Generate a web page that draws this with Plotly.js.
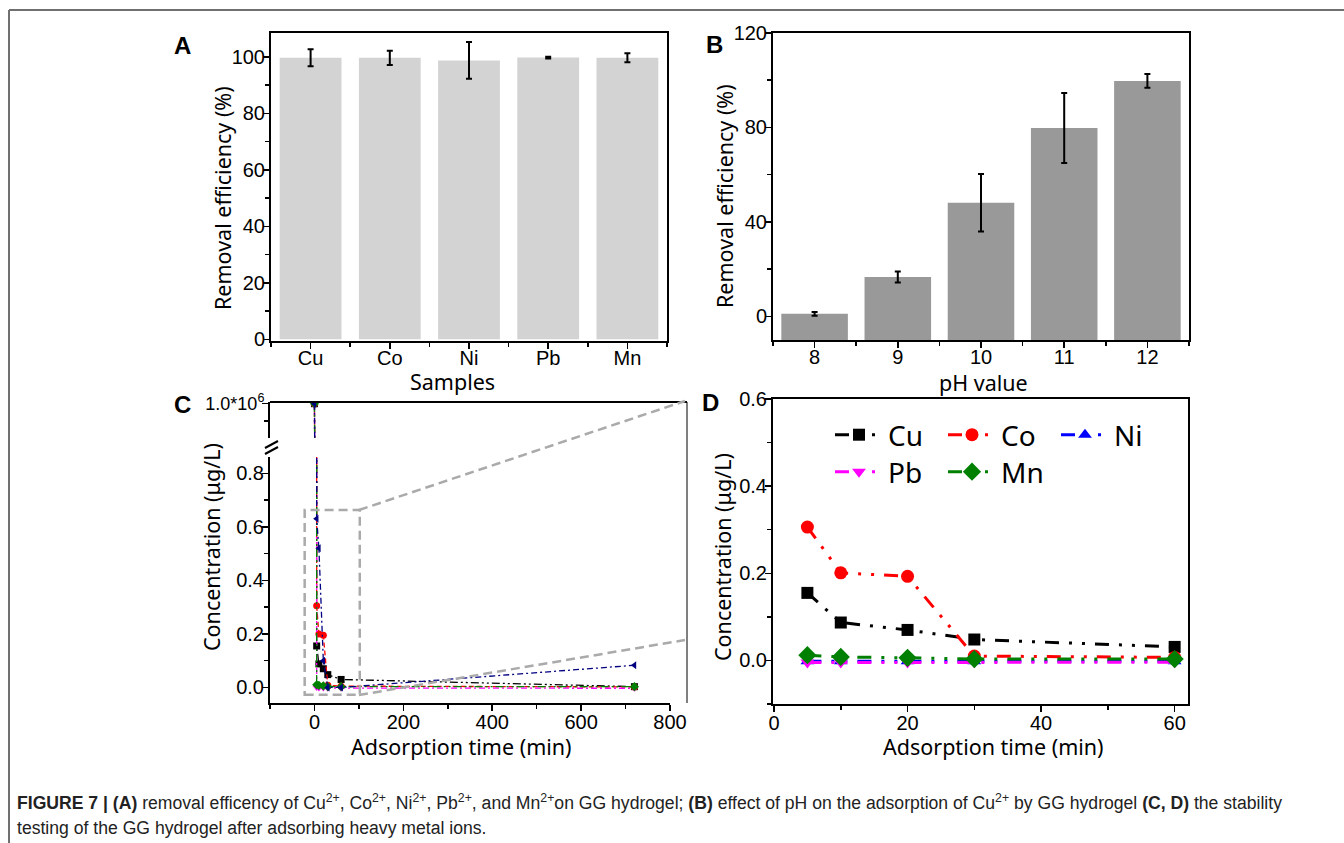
<!DOCTYPE html>
<html><head><meta charset="utf-8">
<script src="https://cdn.plot.ly/plotly-3.0.1.min.js"></script>
<style>html,body{margin:0;padding:0;background:#fff}#chart{width:1344px;height:843px}</style>
</head><body><div id="chart"></div>
<script>
// ---------- data ----------
const samples = ['Cu', 'Co', 'Ni', 'Pb', 'Mn'];
const effA = [99.7, 99.7, 98.8, 99.8, 99.7];
const errA = [3.0, 2.5, 6.5, 0.3, 1.6];

const phValues = [8, 9, 10, 11, 12];
const effB = [1.1, 16.7, 48.1, 79.8, 99.7];
const errB = [0.8, 2.3, 12.2, 14.8, 2.9];

const timeC = [0, 5, 10, 20, 30, 60, 720];
const cuC = [1e6, 0.155, 0.088, 0.070, 0.048, 0.030, 0.003];
const coC = [1e6, 0.305, 0.200, 0.195, 0.008, 0.005, 0.002];
const niC = [1e6, 0.630, 0.520, 0.100, 0.000, 0.000, 0.083];
const pbC = [1e6, 0.000, -0.002, -0.002, -0.003, -0.003, -0.003];
const mnC = [1e6, 0.010, 0.008, 0.006, 0.003, 0.003, 0.003];

const timeD = [5, 10, 20, 30, 60];
const cuD = [0.155, 0.087, 0.070, 0.048, 0.031];
const coD = [0.306, 0.201, 0.193, 0.010, 0.007];
const niD = [-0.002, -0.002, -0.002, -0.002, -0.002];
const pbD = [-0.005, -0.005, -0.005, -0.004, -0.004];
const mnD = [0.012, 0.008, 0.006, 0.003, 0.003];

const yTicksC = [0, 0.2, 0.4, 0.6, 0.8];
const upperTickC = [1e6];
const upperTickTextC = ['1.0*10<sup>6</sup>'];

// ---------- helpers ----------
const W = 1344, H = 843;
const px = v => v / W;
const py = v => 1 - v / H;
const TICKF = {family: 'Liberation Sans, Arial, sans-serif', size: 20, color: '#000'};
const TITLEF = {family: 'Noto Sans, Open Sans, sans-serif', size: 21.5, color: '#000'};
const B_BASE = -10; // bars in panel B rise from the bottom of the axis

function minorT(extra) {
  return Object.assign({ticks: 'outside', ticklen: 4, tickwidth: 1.5, tickcolor: '#000', showgrid: false}, extra);
}
function axisBase(extra) {
  return Object.assign({
    showline: true, linecolor: '#000', linewidth: 2, mirror: true,
    ticks: 'outside', ticklen: 6, tickwidth: 1.5, tickcolor: '#000',
    showgrid: false, zeroline: false, tickfont: TICKF, ticklabelstandoff: -6
  }, extra);
}

const sC = {
  Cu: {color: '#000000', symbol: 'square', dash: '8px,3px,2px,3px,2px,3px'},
  Co: {color: '#ff0000', symbol: 'circle', dash: '5px,3px'},
  Ni: {color: '#000080', symbol: 'triangle-left', dash: '6px,3px,2px,3px'},
  Pb: {color: '#ff00ff', symbol: 'triangle-down', dash: '6px,3px,2px,3px'},
  Mn: {color: '#008000', symbol: 'diamond', dash: '8px,3px,2px,3px,2px,3px'}
};
const dataC = {Cu: cuC, Co: coC, Ni: niC, Pb: pbC, Mn: mnC};

const traces = [];
// Panel A
traces.push({
  type: 'bar', x: samples.map((s, i) => i), y: effA, width: 0.78,
  marker: {color: '#d3d3d3', line: {width: 0}},
  error_y: {type: 'data', array: errA, visible: true, color: '#000', thickness: 2, width: 3},
  xaxis: 'x', yaxis: 'y', showlegend: false
});
// Panel B
traces.push({
  type: 'bar', x: phValues, y: effB.map(v => v - B_BASE), base: B_BASE, width: 0.8,
  marker: {color: '#999999', line: {width: 0}},
  error_y: {type: 'data', array: errB, visible: true, color: '#000', thickness: 2, width: 3},
  xaxis: 'x2', yaxis: 'y2', showlegend: false
});
// Panel C (broken axis: lower y3, upper y5)
['y3', 'y5'].forEach(ya => {
  ['Cu', 'Co', 'Pb', 'Mn', 'Ni'].forEach(name => {
    const st = sC[name];
    traces.push({
      type: 'scatter', mode: 'lines+markers', name: name,
      x: timeC, y: dataC[name], xaxis: 'x3', yaxis: ya, showlegend: false,
      line: {color: st.color, width: 1.3, dash: st.dash},
      marker: {color: st.color, symbol: st.symbol, size: 7}
    });
  });
});
// Panel D
const sD = {
  Cu: {color: '#000000', symbol: 'square', size: 12, data: cuD, legend: 'legend', rank: 1},
  Co: {color: '#ff0000', symbol: 'circle', size: 13, data: coD, legend: 'legend', rank: 2},
  Ni: {color: '#0000ff', symbol: 'triangle-up', size: 12, data: niD, legend: 'legend', rank: 3},
  Pb: {color: '#ff00ff', symbol: 'triangle-down', size: 12, data: pbD, legend: 'legend2', rank: 4},
  Mn: {color: '#008000', symbol: 'diamond', size: 14, data: mnD, legend: 'legend2', rank: 5}
};
['Ni', 'Pb', 'Cu', 'Co', 'Mn'].forEach(name => {
  const st = sD[name];
  traces.push({
    type: 'scatter', mode: 'lines+markers', name: name, legendrank: st.rank,
    x: timeD, y: st.data, xaxis: 'x4', yaxis: 'y4', legend: st.legend,
    line: {color: st.color, width: 3, dash: '14px,10px,3px,10px,3px,10px'},
    marker: {color: st.color, symbol: st.symbol, size: st.size}
  });
});

const legendBase = {
  orientation: 'h', xanchor: 'left', yanchor: 'middle', bgcolor: 'rgba(0,0,0,0)',
  borderwidth: 0, itemwidth: 48, entrywidth: 50, entrywidthmode: 'pixels',
  font: {family: 'Noto Sans, Open Sans, sans-serif', size: 28, color: '#000'},
  traceorder: 'normal', itemclick: false, itemdoubleclick: false
};

function label(text, x, y, font, extra) {
  return Object.assign({text: text, x: px(x), y: py(y), xref: 'paper', yref: 'paper',
    xanchor: 'center', yanchor: 'middle', showarrow: false, font: font}, extra || {});
}
const LETTERF = {family: 'Liberation Sans, Arial', size: 24, color: '#000'};
const CAPF = {family: 'Liberation Sans Narrow, Arial Narrow, Liberation Sans, Arial', size: 17.6, color: '#222'};

const layout = {
  width: W, height: H, margin: {l: 0, r: 0, t: 0, b: 0},
  paper_bgcolor: '#fff', plot_bgcolor: '#fff', font: TICKF,
  xaxis: axisBase({domain: [px(271), px(667)], anchor: 'y', range: [-0.5, 4.5], ticklabelstandoff: -8,
    tickmode: 'array', tickvals: samples.map((s, i) => i), ticktext: samples,
    minor: minorT({tick0: 0.5, dtick: 1})}),
  yaxis: axisBase({domain: [py(341), py(33)], anchor: 'x', range: [-0.6, 108.5], dtick: 20, tick0: 0,
    minor: minorT({dtick: 10})}),
  xaxis2: axisBase({domain: [px(773), px(1189)], anchor: 'y2', range: [7.5, 12.5], dtick: 1, tick0: 8, ticklabelstandoff: -8,
    minor: minorT({tick0: 0.5, dtick: 1})}),
  yaxis2: axisBase({domain: [py(340), py(33)], anchor: 'x2', range: [-10, 120], dtick: 40, tick0: 0,
    minor: minorT({dtick: 20})}),
  xaxis3: axisBase({domain: [px(270), px(670)], anchor: 'y3', range: [-100, 800], dtick: 200, tick0: 0, mirror: false,
    minor: minorT({dtick: 100})}),
  yaxis3: axisBase({domain: [py(703), py(457)], anchor: 'x3', range: [-0.058, 0.861], mirror: false,
    tickmode: 'array', tickvals: yTicksC, tickformat: '.1f',
    minor: minorT({dtick: 0.1, tick0: 0})}),
  yaxis5: axisBase({domain: [py(438), py(402)], anchor: 'x3', range: [0.9e6, 1.005e6], mirror: false,
    tickmode: 'array', tickvals: upperTickC, ticktext: upperTickTextC,
    tickfont: {family: 'Liberation Sans, Arial, sans-serif', size: 18, color: '#000'},
    minor: minorT({tickmode: 'array', tickvals: [0.95e6]})}),
  xaxis4: axisBase({domain: [px(773), px(1188)], anchor: 'y4', range: [-0.15, 62], dtick: 20, tick0: 0,
    minor: minorT({dtick: 10})}),
  yaxis4: axisBase({domain: [py(704), py(399)], anchor: 'x4', range: [-0.1, 0.6], dtick: 0.2, tick0: 0, tickformat: '.1f',
    minor: minorT({dtick: 0.1})}),
  legend: Object.assign({}, legendBase, {x: px(830), y: py(435)}),
  legend2: Object.assign({}, legendBase, {x: px(830), y: py(472)}),
  shapes: [
    // figure frame
    {type: 'line', xref: 'paper', yref: 'paper', x0: px(9), x1: px(1344), y0: py(10), y1: py(10), line: {color: '#707070', width: 2}},
    {type: 'line', xref: 'paper', yref: 'paper', x0: px(9), x1: px(9), y0: py(10), y1: py(843), line: {color: '#707070', width: 2}},
    // panel C frame
    {type: 'line', xref: 'paper', yref: 'paper', x0: px(270), x1: px(687), y0: py(402), y1: py(402), line: {color: '#000', width: 2}},
    {type: 'line', xref: 'paper', yref: 'paper', x0: px(687), x1: px(687), y0: py(402), y1: py(703), line: {color: '#000', width: 1}},
    // axis break marks
    {type: 'line', xref: 'paper', yref: 'paper', x0: px(265), x1: px(278), y0: py(448), y1: py(441), line: {color: '#000', width: 2}},
    {type: 'line', xref: 'paper', yref: 'paper', x0: px(265), x1: px(278), y0: py(454), y1: py(447), line: {color: '#000', width: 2}},
    // zoom box and connectors
    {type: 'rect', xref: 'x3', yref: 'y3', x0: -22, x1: 102, y0: -0.027, y1: 0.663, line: {color: '#aaaaaa', width: 2.5, dash: '9px,5px'}},
    {type: 'line', xref: 'paper', yref: 'paper', x0: px(359), x1: px(685), y0: py(510), y1: py(401), line: {color: '#aaaaaa', width: 2.5, dash: '9px,5px'}},
    {type: 'line', xref: 'paper', yref: 'paper', x0: px(359), x1: px(685), y0: py(695), y1: py(640), line: {color: '#aaaaaa', width: 2.5, dash: '9px,5px'}}
  ],
  annotations: [
    label('<b>A</b>', 182, 45, LETTERF),
    label('<b>B</b>', 714, 44, LETTERF),
    label('<b>C</b>', 182, 404, LETTERF),
    label('<b>D</b>', 711, 402, LETTERF),
    // axis titles
    label('Removal efficiency (%)', 222, 198, TITLEF, {textangle: -90}),
    label('Samples', 452, 381, TITLEF),
    label('Removal efficiency (%)', 724, 196, TITLEF, {textangle: -90}),
    label('pH value', 983, 382, TITLEF),
    label('Concentration (μg/L)', 211, 547, TITLEF, {textangle: -90}),
    label('Adsorption time (min)', 461, 746, TITLEF),
    label('Concentration (μg/L)', 722, 557, TITLEF, {textangle: -90}),
    label('Adsorption time (min)', 993, 746, TITLEF),
    // caption
    label('<b>FIGURE 7 | (A)</b> removal efficency of Cu<sup>2+</sup>, Co<sup>2+</sup>, Ni<sup>2+</sup>, Pb<sup>2+</sup>, and Mn<sup>2+</sup>on GG hydrogel; <b>(B)</b> effect of pH on the adsorption of Cu<sup>2+</sup> by GG hydrogel <b>(C, D)</b> the stability',
      15, 802, CAPF, {xanchor: 'left'}),
    label('testing of the GG hydrogel after adsorbing heavy metal ions.', 15, 828, CAPF, {xanchor: 'left'})
  ]
};

Plotly.newPlot('chart', traces, layout, {staticPlot: true, displayModeBar: false});
</script>
</body></html>
